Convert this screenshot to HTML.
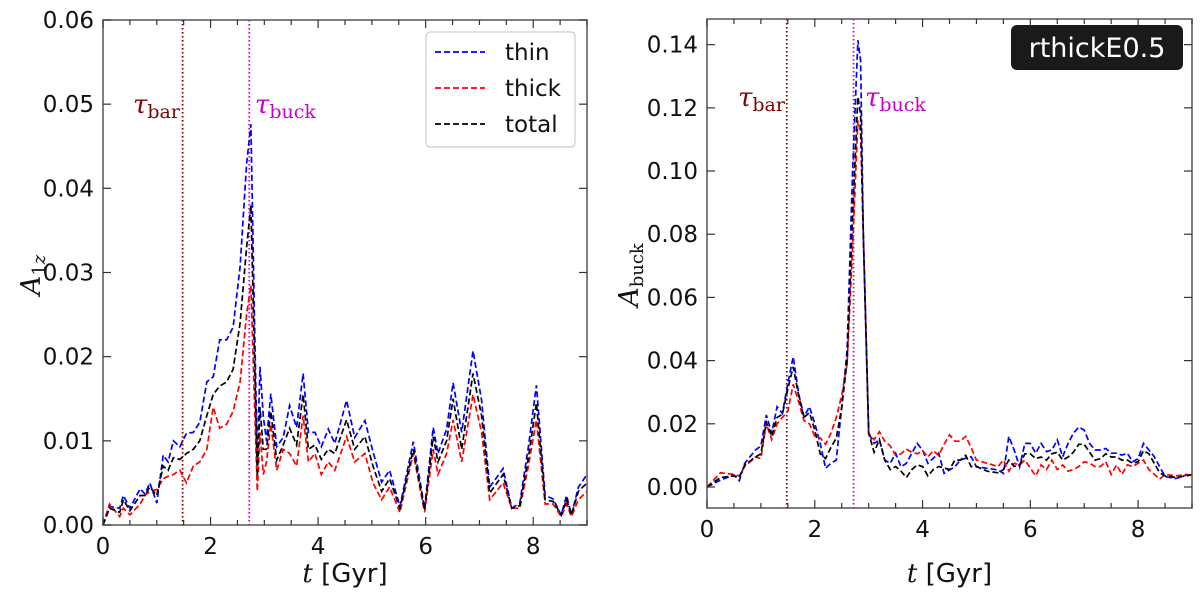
<!DOCTYPE html>
<html><head><meta charset="utf-8"><style>
body{margin:0;background:#fff;}
svg text{font-family:"DejaVu Sans","Liberation Sans",sans-serif;}
.ser{font-family:"DejaVu Serif","Liberation Serif",serif;}
</style></head><body>
<svg id="c" width="1200" height="589" xmlns="http://www.w3.org/2000/svg"></svg>
<script>
const T1=[0,0.12,0.31,0.38,0.5,0.69,0.78,0.87,1.0,1.12,1.21,1.31,1.43,1.55,1.68,1.8,1.93,2.05,2.17,2.3,2.42,2.55,2.67,2.75,2.81,2.87,2.92,2.98,3.04,3.12,3.23,3.35,3.47,3.6,3.72,3.82,3.94,4.06,4.19,4.31,4.53,4.68,4.87,5.02,5.18,5.33,5.52,5.77,5.98,6.14,6.23,6.39,6.51,6.67,6.88,7.04,7.19,7.44,7.6,7.75,7.91,8.06,8.22,8.37,8.52,8.62,8.71,8.84,9.0];
const thin1=[0,.0022,.002,.0035,.002,.0043,.0037,.005,.0026,.0083,.0075,.010,.0093,.0109,.011,.0122,.017,.0176,.022,.022,.0235,.0307,.0429,.0476,.0267,.0077,.0188,.0129,.010,.0156,.0093,.0104,.0142,.0116,.018,.011,.011,.0093,.0114,.0097,.0148,.0104,.0124,.0087,.0051,.0065,.0022,.0099,.002,.0116,.0085,.0114,.0169,.011,.0207,.0148,.0045,.0067,.002,.0026,.0093,.0166,.0035,.0031,.0012,.0035,.0012,.0045,.006];
const thick1=[0,.0025,.001,.002,.0012,.0025,.0035,.004,.0042,.0055,.0058,.006,.0065,.005,.007,.0075,.009,.014,.0115,.012,.0135,.017,.025,.0285,.016,.004,.011,.006,.0075,.012,.0065,.009,.0085,.007,.013,.0075,.0085,.006,.0075,.0065,.0105,.0075,.0085,.005,.003,.0045,.0015,.0085,.0015,.009,.006,.0085,.0125,.0075,.0155,.011,.003,.005,.002,.002,.007,.0125,.0025,.0025,.001,.0025,.001,.003,.004];
const total1=[0,.002,.0015,.003,.0017,.0035,.0035,.0045,.0035,.007,.0065,.008,.0078,.0085,.009,.01,.013,.0155,.0165,.017,.0185,.024,.033,.038,.022,.0058,.014,.009,.009,.0135,.0077,.0095,.0115,.0095,.0155,.009,.0095,.0078,.009,.0085,.0125,.009,.0105,.007,.004,.0055,.002,.009,.0018,.0105,.0075,.01,.015,.009,.018,.013,.0038,.006,.002,.0023,.008,.0145,.003,.0028,.0012,.003,.0012,.004,.005];
const T2=[0,.25,.5,.6,.7,.9,1.0,1.1,1.2,1.3,1.4,1.5,1.6,1.7,1.8,1.9,2.0,2.1,2.2,2.3,2.4,2.5,2.6,2.7,2.8,2.85,2.9,3.0,3.1,3.2,3.3,3.4,3.5,3.6,3.7,3.8,3.9,4.0,4.1,4.2,4.3,4.4,4.5,4.6,4.7,4.8,4.9,5.0,5.2,5.4,5.5,5.6,5.7,5.8,5.9,6.0,6.1,6.2,6.3,6.4,6.5,6.6,6.7,6.8,6.9,7.0,7.1,7.2,7.3,7.4,7.5,7.6,7.7,7.8,7.9,8.0,8.1,8.2,8.3,8.4,8.5,8.7,8.9,9.0];
const thin2=[0,.0022,.0038,.002,.0075,.0117,.013,.0228,.017,.0254,.0233,.0328,.0412,.0296,.0222,.0254,.0201,.0138,.0059,.0075,.0085,.0254,.0433,.0992,.1414,.135,.080,.017,.0138,.0149,.0085,.0075,.0107,.0064,.0075,.0107,.0138,.0117,.0075,.0091,.0107,.0043,.0054,.0064,.0085,.0091,.0096,.0064,.0059,.0054,.0043,.016,.0117,.0064,.0138,.0138,.0107,.0138,.0112,.0117,.0149,.0096,.0138,.017,.019,.018,.0138,.0117,.0117,.0122,.0107,.0107,.0101,.0107,.008,.009,.0138,.0117,.0096,.0064,.0033,.0027,.0038,.0033];
const thick2=[0,.0045,.004,.0035,.0065,.0095,.009,.02,.015,.02,.022,.024,.0325,.027,.021,.02,.016,.0155,.0135,.017,.022,.029,.039,.075,.116,.112,.080,.017,.015,.0175,.0145,.013,.010,.0105,.012,.011,.0105,.0115,.0095,.0115,.010,.0135,.0165,.0145,.0145,.016,.0125,.0085,.0075,.0065,.0085,.005,.0075,.007,.0085,.006,.0035,.007,.0055,.0085,.0055,.007,.005,.0055,.0065,.008,.0075,.0065,.0065,.008,.004,.007,.004,.007,.0065,.0075,.0085,.0055,.004,.0025,.004,.0035,.004,.0035];
const total2=[0,.003,.0035,.003,.007,.0095,.0105,.0205,.016,.022,.023,.031,.038,.029,.022,.0235,.018,.0105,.009,.0125,.0155,.025,.040,.085,.1235,.118,.080,.017,.011,.015,.0085,.0055,.0065,.005,.003,.0055,.007,.0065,.0035,.0055,.0065,.006,.0055,.0085,.0085,.010,.0065,.0065,.005,.0045,.0055,.0085,.0065,.007,.0105,.0105,.009,.0095,.0085,.0105,.011,.0085,.0095,.011,.0135,.0135,.011,.0085,.009,.0105,.0095,.0095,.0085,.0085,.0075,.008,.0115,.0105,.0075,.0045,.0035,.003,.0035,.004];
const xTicks=[0,2,4,6,8];
const yTicks1=[0,0.01,0.02,0.03,0.04,0.05,0.06];
const yTicks2=[0,0.02,0.04,0.06,0.08,0.10,0.12,0.14];
const tauBar=1.48, tauBuck=2.72;

const NS="http://www.w3.org/2000/svg";
const svg=document.getElementById('c');
function mk(tag,attrs,parent,text){const e=document.createElementNS(NS,tag);for(const k in attrs)e.setAttribute(k,attrs[k]);if(text!==undefined)e.textContent=text;(parent||svg).appendChild(e);return e;}

function panel(p){
  const sx=v=>p.x0+(v-0)/(9-0)*(p.x1-p.x0);
  const sy=v=>p.y0-(v-p.ymin)/(p.ymax-p.ymin)*(p.y0-p.y1);
  const g=mk('g',{});
  
  
  const vb=mk('line',{x1:sx(tauBar),x2:sx(tauBar),y1:p.y1,y2:p.y0,stroke:'#800000','stroke-width':1.8,'stroke-dasharray':'1.5 2.5'},g);
  
  
  const vk=mk('line',{x1:sx(tauBuck),x2:sx(tauBuck),y1:p.y1,y2:p.y0,stroke:'#cc00cc','stroke-width':1.8,'stroke-dasharray':'1.5 2.5'},g);
  
  
  const series=[[p.thin,'#0000ff','thin'],[p.thick,'#ff0000','thick'],[p.total,'#000000','total']];
  for(const [arr,col,nm] of series){
    const d=arr.map((v,i)=>(i?'L':'M')+sx(p.T[i]).toFixed(1)+','+sy(v).toFixed(1)).join('');
    const pl=mk('path',{d:d,fill:'none',stroke:col,'stroke-width':1.7,'stroke-dasharray':'6 3'},g);
    
    
  }
  const fr=mk('rect',{x:p.x0,y:p.y1,width:p.x1-p.x0,height:p.y0-p.y1,fill:'none',stroke:'#555','stroke-width':1.5},g);
  
  
  for(let v=0;v<=9.001;v+=0.5){
    const big=Math.abs(v-Math.round(v/2)*2)<1e-6;
    const L=big?8:5;
    mk('line',{x1:sx(v),x2:sx(v),y1:p.y0,y2:p.y0-L,stroke:'#333','stroke-width':1.2},g);
    mk('line',{x1:sx(v),x2:sx(v),y1:p.y1,y2:p.y1+L,stroke:'#333','stroke-width':1.2},g);
  }
  for(const v of xTicks){
    const t=mk('text',{x:sx(v),y:p.y0+29,'font-size':23,'text-anchor':'middle',fill:'#111'},g,String(v));
    
    
  }
  for(const v of p.yTicks){
    mk('line',{x1:p.x0,x2:p.x0+8,y1:sy(v),y2:sy(v),stroke:'#333','stroke-width':1.2},g);
    mk('line',{x1:p.x1,x2:p.x1-8,y1:sy(v),y2:sy(v),stroke:'#333','stroke-width':1.2},g);
    const t=mk('text',{x:p.x0-9,y:sy(v)+8,'font-size':23,'text-anchor':'end',fill:'#111'},g,v.toFixed(p.dec));
    
    
  }
  const xl=mk('text',{x:(p.x0+p.x1)/2,y:582,'font-size':26,'text-anchor':'middle',fill:'#111'},g);
  
  
  mk('tspan',{'font-style':'italic',class:'ser'},xl,'t');
  mk('tspan',{},xl,' [Gyr]');
  return {sx,sy,g};
}

panel({name:'left-panel',x0:103,x1:587,y0:525,y1:20,ymin:0,ymax:0.06,yTicks:yTicks1,dec:2,T:T1,thin:thin1,thick:thick1,total:total1});
panel({name:'right-panel',x0:707,x1:1192,y0:508,y1:19,ymin:-0.00665,ymax:0.14812,yTicks:yTicks2,dec:2,T:T2,thin:thin2,thick:thick2,total:total2});

function tauLabel(x,y,sub,col,name){
  const t=mk('text',{x:x,y:y,'font-size':26,fill:col,class:'ser'});
  
  
  mk('tspan',{'font-style':'italic'},t,'τ');
  mk('tspan',{'font-size':19,dy:5},t,sub);
}
tauLabel(133,113,'bar','#800000','tau-bar-label');
tauLabel(255,113,'buck','#cc00cc','tau-buck-label');
tauLabel(738,106,'bar','#800000','tau-bar-label-right');
tauLabel(865,106,'buck','#cc00cc','tau-buck-label-right');

const ya=mk('text',{x:0,y:0,'font-size':27,transform:'translate(40,275) rotate(-90)','text-anchor':'middle',fill:'#111',class:'ser'});


mk('tspan',{'font-style':'italic'},ya,'A');
mk('tspan',{'font-size':18,dy:5},ya,'1');
mk('tspan',{'font-size':18,'font-style':'italic'},ya,'z');
const yb=mk('text',{x:0,y:0,'font-size':27,transform:'translate(638,275) rotate(-90)','text-anchor':'middle',fill:'#111',class:'ser'});


mk('tspan',{'font-style':'italic'},yb,'A');
mk('tspan',{'font-size':18,dy:5},yb,'buck');

const lg=mk('g',{});


mk('rect',{x:426,y:32,width:149,height:115,rx:4,fill:'#fff',stroke:'#ccc','stroke-width':1.2},lg);
const leg=[['thin','#0000ff',52],['thick','#ff0000',88],['total','#000000',124]];
for(const [nm,col,y] of leg){
  const e=mk('g',{},lg);
  
  
  mk('line',{x1:435,x2:485,y1:y,y2:y,stroke:col,'stroke-width':1.7,'stroke-dasharray':'6 3'},e);
  mk('text',{x:505,y:y+8,'font-size':23,fill:'#111'},e,nm);
}
const bd=mk('g',{});


mk('rect',{x:1011,y:25,width:172,height:45,rx:6,fill:'#1a1a1a'},bd);
mk('text',{x:1097,y:57,'font-size':27,'text-anchor':'middle',fill:'#fff'},bd,'rthickE0.5');
</script>
</body></html>
